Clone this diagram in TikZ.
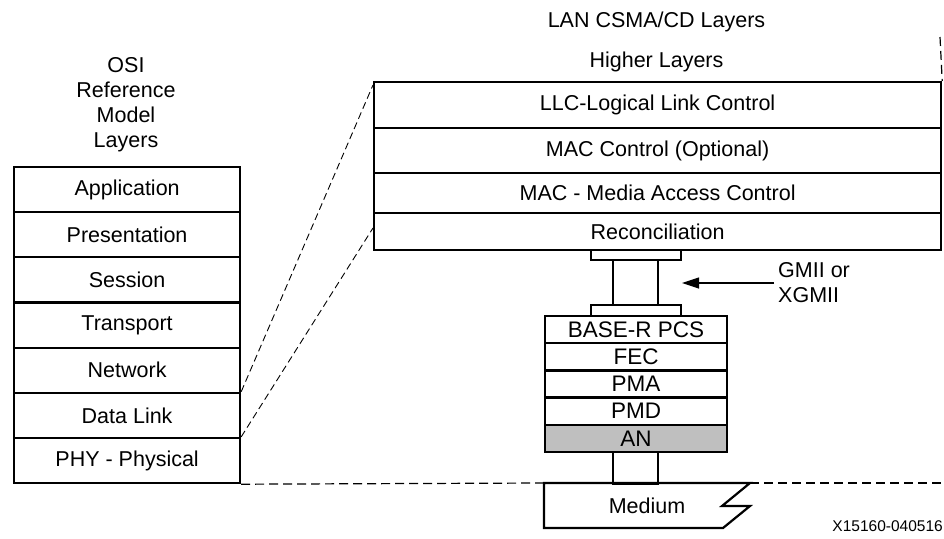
\documentclass[tikz,border=0pt]{standalone}
\usepackage{fontspec}
\setmainfont{Liberation Sans}
\usetikzlibrary{arrows.meta,calc}
\begin{document}
\begin{tikzpicture}[x=1pt,y=-1pt,
  txt/.style={font=\fontsize{21.5}{25}\selectfont},
  lay/.style={txt,draw,line width=2.2pt,rectangle,inner sep=0pt,anchor=north west},
  osi/.style={lay,minimum width=226pt,minimum height=45.14pt},
  lan/.style={lay,minimum width=567pt},
  stk/.style={lay,minimum width=182pt,minimum height=27pt,font=\fontsize{22.5}{25}\selectfont},
  plug/.style={lay,minimum width=90pt,minimum height=10pt},
  stem/.style={lay,minimum width=45pt},
  zoomline/.style={dashed,dash pattern=on 7pt off 4pt,line width=0.9pt},
  refline/.style={dash pattern=on 9pt off 5pt,line width=1.2pt},
  arr/.style={line width=1.2pt,-{Triangle[length=17pt,width=11pt]}}]
\useasboundingbox (0,0) rectangle (944,538);
% OSI title
\node[txt,align=center] (osititle) at (126,104.5) {OSI\\Reference\\Model\\Layers};
% OSI column
\node[osi] (app) at (13,166) {Application};
\node[osi] (pres) at (13,211.14) {Presentation};
\node[osi] (sess) at (13,256.29) {Session};
\node[osi] (trans) at (13,301.43) {Transport};
\node[osi] (net) at (13,346.57) {Network};
\node[osi] (dl) at (13,391.71) {Data Link};
\node[osi] (phy) at (13,436.86) {PHY - Physical};
% LAN titles
\node[txt] (lantitle) at (656.5,22) {LAN CSMA/CD Layers};
\node[txt] (higher) at (656.5,62) {Higher Layers};
% LAN layers
\node[lan,minimum height=46pt] (llc) at (373,81) {LLC-Logical Link Control};
\node[lan,minimum height=45pt] (macc) at (373,127) {MAC Control (Optional)};
\node[lan,minimum height=40pt] (mac) at (373,172) {MAC - Media Access Control};
\node[lan,minimum height=37pt] (rec) at (373,212) {Reconciliation};
% interface
\node[plug] (plugA) at (590,249) {};
\node[stem,minimum height=45pt] (stemA) at (612,259) {};
\node[plug,minimum height=11pt] (plugB) at (590,304) {};
% PHY stack
\node[stk] (pcs) at (544,315) {BASE-R PCS};
\node[stk] (fec) at (544,342.2) {FEC};
\node[stk] (pma) at (544,369.4) {PMA};
\node[stk] (pmd) at (544,396.6) {PMD};
\node[stk,fill=black!25] (an) at (544,423.8) {AN};
\node[stem,minimum height=32pt] (stemB) at (612,451) {};
% Medium
\draw[line width=2.2pt,line join=miter] (544,483) -- (750,483) -- (722,506) -- (750,506) -- (723,528) -- (544,528) -- cycle;
\node[txt] (medium) at (647,506) {Medium};
% GMII label and arrow
\node[txt,align=left,anchor=west,inner sep=4pt] (gmii) at (774,283) {GMII or\\XGMII};
\coordinate (arrtip) at (682,283);
\draw[arr] (gmii.west) -- (arrtip);
% zoom lines
\coordinate (zA) at (373,85);
\coordinate (zB) at (373,228);
\draw[zoomline] (dl.north east) -- (zA);
\draw[zoomline] (phy.north east) -- (zB);
% reference lines
\coordinate (topr) at (940,37);
\coordinate (medl) at (544,483);
\coordinate (medr) at (750,483);
\coordinate (farr) at (944,483);
\draw[refline] (topr) -- (llc.north east);
\draw[refline] (phy.south east) -- (medl);
\draw[refline] (medr) -- (farr);
% figure id
\node[font=\fontsize{15.5}{17}\selectfont,anchor=east,inner sep=0pt] (figid) at (943,526) {X15160-040516};
\end{tikzpicture}
\end{document}
